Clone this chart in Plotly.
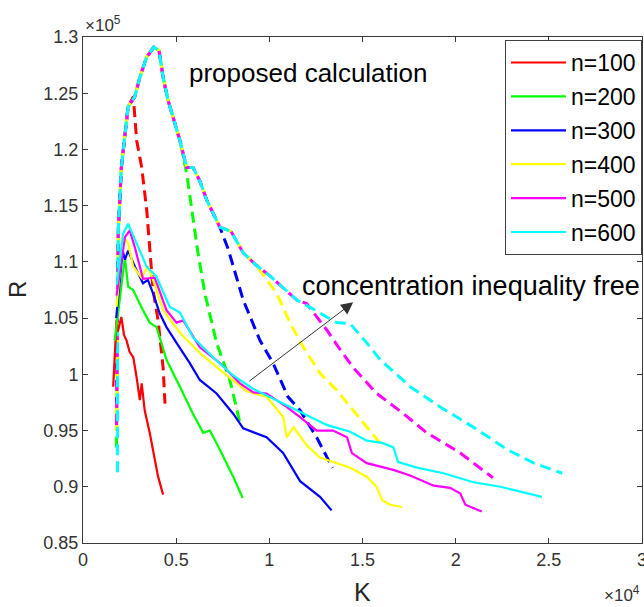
import plotly.graph_objects as go

# ---- data (K in units of 1e4, R in units of 1e5) ----
labels = ["n=100", "n=200", "n=300", "n=400", "n=500", "n=600"]
colors = ["#ff0000", "#00ff00", "#0000ff", "#ffff00", "#ff00ff", "#00ffff"]

# proposed calculation (dashed)
env_K = [0.185, 0.19, 0.206, 0.242, 0.278, 0.305, 0.341, 0.38, 0.408, 0.43, 0.456, 0.52,
         0.556, 0.59, 0.627, 0.664, 0.734, 0.795, 0.86, 0.93, 1.0, 1.075, 1.148, 1.236]
env_R = [1.05, 1.13, 1.184, 1.238, 1.247, 1.264, 1.282, 1.291, 1.288, 1.264, 1.244, 1.208,
         1.184, 1.184, 1.172, 1.155, 1.131, 1.127, 1.108, 1.097, 1.088, 1.077, 1.066, 1.058]

d100_K = [0.178, 0.185, 0.19, 0.206, 0.242, 0.27, 0.288, 0.315, 0.342, 0.358, 0.376, 0.403, 0.43, 0.44]
d100_R = [1.0, 1.05, 1.13, 1.184, 1.238, 1.247, 1.208, 1.184, 1.146, 1.11, 1.075, 1.048, 1.006, 0.974]

d200_K = [0.18] + env_K[:12] + [0.556, 0.583, 0.617, 0.654, 0.717, 0.788, 0.845]
d200_R = [0.935] + env_R[:12] + [1.179, 1.149, 1.108, 1.072, 1.028, 0.995, 0.955]

d300_K = [0.18] + env_K[:17] + [0.778, 0.86, 0.95, 1.02, 1.10, 1.165, 1.254, 1.31, 1.34]
d300_R = [0.97] + env_R[:17] + [1.112, 1.066, 1.03, 1.01, 0.98, 0.968, 0.944, 0.926, 0.917]

d400_K = [0.18] + env_K[:20] + [1.04, 1.11, 1.183, 1.272, 1.361, 1.45, 1.541, 1.613]
d400_R = [0.95] + env_R[:20] + [1.072, 1.046, 1.024, 1.001, 0.986, 0.968, 0.95, 0.935]

d500_K = [0.18] + env_K[:23] + [1.2, 1.31, 1.38, 1.45, 1.576, 1.72, 1.845, 2.025, 2.2]
d500_R = [0.955] + env_R[:23] + [1.063, 1.039, 1.022, 1.006, 0.983, 0.965, 0.948, 0.93, 0.908]

d600_K = [0.185] + env_K + [1.361, 1.434, 1.523, 1.595, 1.756, 1.917, 2.095, 2.278, 2.42, 2.572]
d600_R = [0.913] + env_R + [1.046, 1.045, 1.028, 1.013, 0.989, 0.971, 0.953, 0.933, 0.921, 0.912]

# concentration inequality free (solid)
s100_K = [0.162, 0.18, 0.187, 0.206, 0.22, 0.234, 0.25, 0.27, 0.288, 0.305, 0.315, 0.331, 0.358, 0.376, 0.403, 0.43]
s100_R = [0.989, 1.048, 1.038, 1.051, 1.035, 1.03, 1.02, 1.015, 0.997, 0.977, 0.992, 0.968, 0.948, 0.933, 0.909, 0.893]

s200_K = [0.17, 0.208, 0.225, 0.242, 0.269, 0.322, 0.358, 0.395, 0.448, 0.52, 0.59, 0.645, 0.681, 0.735, 0.806, 0.857]
s200_R = [1.03, 1.081, 1.104, 1.078, 1.075, 1.057, 1.046, 1.042, 1.013, 0.989, 0.965, 0.948, 0.95, 0.933, 0.909, 0.89]

s300_K = [0.178, 0.198, 0.213, 0.225, 0.242, 0.278, 0.322, 0.348, 0.376, 0.412, 0.448, 0.502, 0.573, 0.627,
          0.717, 0.806, 0.86, 0.985, 1.074, 1.165, 1.272, 1.334]
s300_R = [1.05, 1.081, 1.11, 1.102, 1.11, 1.096, 1.081, 1.084, 1.072, 1.054, 1.042, 1.028, 1.01, 0.995,
          0.983, 0.965, 0.952, 0.944, 0.93, 0.905, 0.891, 0.879]

s400_K = [0.18, 0.215, 0.242, 0.269, 0.314, 0.348, 0.376, 0.43, 0.52, 0.627, 0.735, 0.878, 0.985, 1.075,
          1.093, 1.13, 1.2, 1.272, 1.434, 1.523, 1.576, 1.605, 1.648, 1.712]
s400_R = [1.06, 1.122, 1.117, 1.096, 1.086, 1.096, 1.084, 1.057, 1.037, 1.019, 1.004, 0.985, 0.98, 0.962,
          0.944, 0.953, 0.937, 0.926, 0.917, 0.909, 0.9, 0.888, 0.884, 0.882]

s500_K = [0.18, 0.225, 0.251, 0.278, 0.322, 0.385, 0.448, 0.502, 0.538, 0.627, 0.735, 0.842, 0.914, 0.985,
          1.093, 1.165, 1.254, 1.342, 1.417, 1.443, 1.523, 1.665, 1.756, 1.882, 1.97, 2.025, 2.052, 2.096, 2.14]
s500_R = [1.07, 1.122, 1.128, 1.113, 1.085, 1.086, 1.057, 1.046, 1.048, 1.024, 1.01, 0.992, 0.984, 0.983,
          0.971, 0.962, 0.95, 0.95, 0.944, 0.93, 0.921, 0.915, 0.91, 0.901, 0.899, 0.894, 0.884, 0.881, 0.878]

s600_K = [0.182, 0.215, 0.242, 0.287, 0.341, 0.394, 0.466, 0.52, 0.59, 0.699, 0.806, 0.914, 1.075, 1.165,
          1.254, 1.308, 1.434, 1.523, 1.605, 1.666, 1.691, 1.792, 1.935, 2.096, 2.24, 2.383, 2.463]
s600_R = [1.08, 1.125, 1.134, 1.117, 1.096, 1.087, 1.06, 1.055, 1.033, 1.015, 0.999, 0.987, 0.974, 0.966,
          0.959, 0.955, 0.949, 0.941, 0.939, 0.935, 0.922, 0.917, 0.912, 0.904, 0.9, 0.894, 0.891]

dashed_K = [d100_K, d200_K, d300_K, d400_K, d500_K, d600_K]
dashed_R = [d100_R, d200_R, d300_R, d400_R, d500_R, d600_R]
solid_K = [s100_K, s200_K, s300_K, s400_K, s500_K, s600_K]
solid_R = [s100_R, s200_R, s300_R, s400_R, s500_R, s600_R]

x_ticks = [0, 0.5, 1, 1.5, 2, 2.5, 3]
x_ticktext = ["0", "0.5", "1", "1.5", "2", "2.5", "3"]
y_ticks = [0.85, 0.9, 0.95, 1.0, 1.05, 1.1, 1.15, 1.2, 1.25, 1.3]
y_ticktext = ["0.85", "0.9", "0.95", "1", "1.05", "1.1", "1.15", "1.2", "1.25", "1.3"]

fig = go.Figure()
for i in range(6):
    fig.add_trace(go.Scatter(x=dashed_K[i], y=dashed_R[i], mode="lines",
                             line=dict(color=colors[i], width=3, dash="11px,6px"),
                             showlegend=False, hoverinfo="skip"))
for i in range(6):
    fig.add_trace(go.Scatter(x=solid_K[i], y=solid_R[i], mode="lines", name=labels[i],
                             legendgroup=labels[i],
                             line=dict(color=colors[i], width=2.2)))

axis_col = "#3a3a3a"
font_fam = "Liberation Sans, Arial, sans-serif"
fig.update_layout(
    width=644, height=607,
    margin=dict(l=83, r=2, t=37, b=64, autoexpand=False),
    paper_bgcolor="white", plot_bgcolor="white",
    font=dict(family=font_fam, color="#262626"),
    showlegend=True,
    legend=dict(x=1, xanchor="right", y=0.994, yanchor="top",
                bgcolor="white", bordercolor="#404040", borderwidth=1,
                font=dict(size=23, color="black", family=font_fam),
                itemwidth=55, tracegroupgap=1),
    xaxis=dict(range=[0, 3], tickvals=x_ticks, ticktext=x_ticktext, automargin=False,
               showgrid=False, zeroline=False, showline=True, linecolor=axis_col, linewidth=1,
               mirror="ticks", ticks="inside", ticklen=5, tickcolor=axis_col,
               ticklabeloverflow="allow",
               tickfont=dict(size=18, color="#333333")),
    yaxis=dict(range=[0.85, 1.3], tickvals=y_ticks, ticktext=y_ticktext, automargin=False,
               showgrid=False, zeroline=False, showline=True, linecolor=axis_col, linewidth=1,
               mirror="ticks", ticks="inside", ticklen=5, tickcolor=axis_col,
               tickfont=dict(size=18, color="#333333")),
)

fig.add_annotation(x=1.21, y=1.268, xref="x", yref="y", text="proposed calculation",
                   showarrow=False, font=dict(size=26, color="black"))
fig.add_annotation(x=1.0, y=1.079, xref="paper", yref="y", xanchor="right",
                   text="concentration inequality free",
                   showarrow=False, font=dict(size=27, color="black"))
fig.add_annotation(x=1.45, y=1.064, ax=0.885, ay=0.993, xref="x", yref="y",
                   axref="x", ayref="y", text="", showarrow=True,
                   arrowhead=2, arrowsize=2.4, arrowwidth=1, arrowcolor="#333333")
# axis titles and exponents
fig.add_annotation(x=0.5, y=-0.097, xref="paper", yref="paper", text="K",
                   xanchor="center", yanchor="middle",
                   showarrow=False, font=dict(size=25, color="#262626"))
fig.add_annotation(x=-0.118, y=0.5, xref="paper", yref="paper", text="R", textangle=-90,
                   xanchor="center", yanchor="middle",
                   showarrow=False, font=dict(size=24, color="#262626"))
fig.add_annotation(x=0.0, y=1.0, xref="paper", yref="paper", xanchor="left", yanchor="bottom",
                   text="×10<sup>5</sup>", showarrow=False, font=dict(size=17, color="#333333"))
fig.add_annotation(x=1.0, y=-0.1, xref="paper", yref="paper", xanchor="right", yanchor="middle",
                   text="×10<sup>4</sup>", showarrow=False, font=dict(size=17, color="#333333"))

fig.write_html("out.html", config={"displayModeBar": False},
               post_script="document.body.style.margin='0';")
